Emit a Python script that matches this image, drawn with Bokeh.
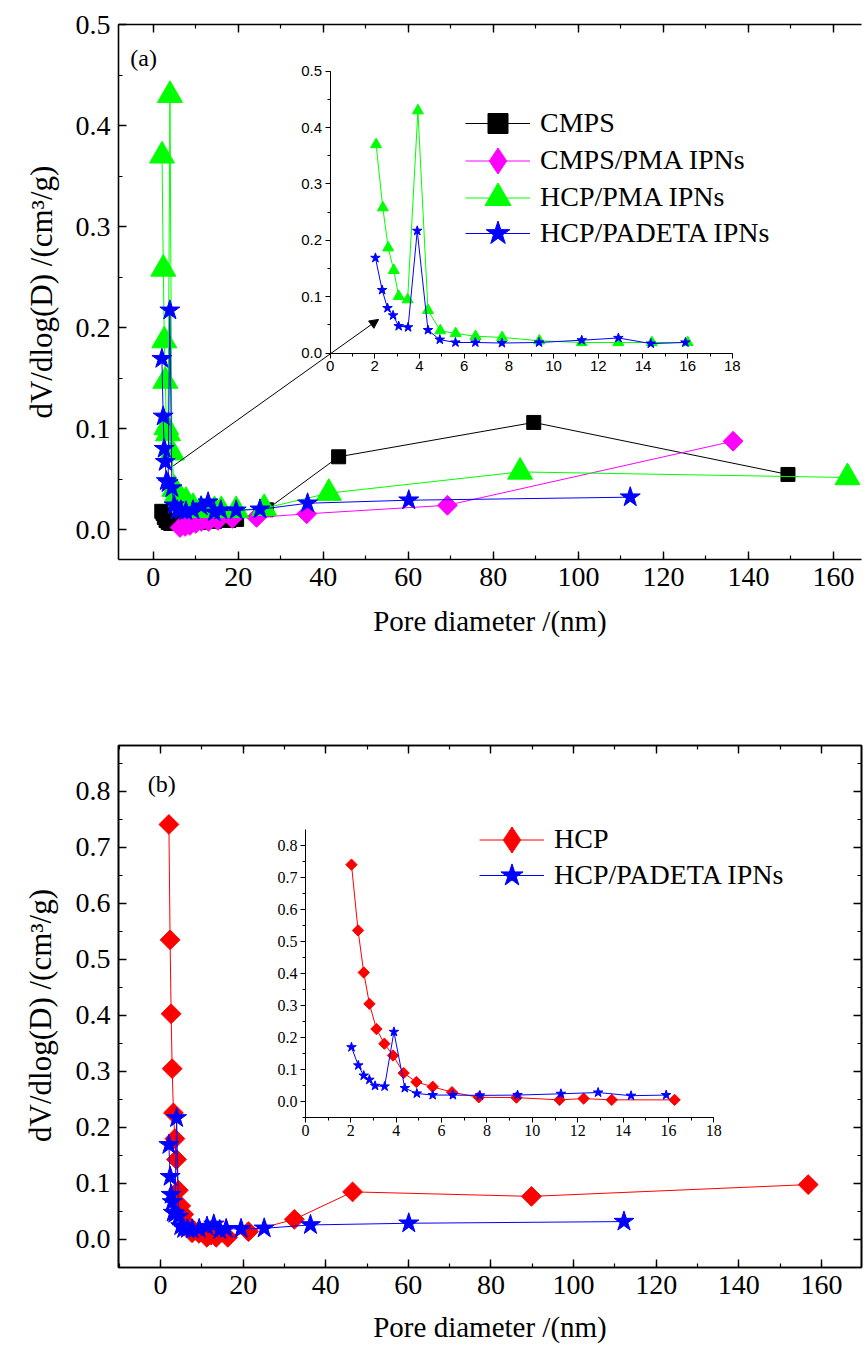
import math
from bokeh.plotting import figure
from bokeh.models import (Range1d, LinearAxis, SingleIntervalTicker, Legend, LegendItem,
                          Arrow, NormalHead, Label, NumeralTickFormatter)
from bokeh.layouts import column
from bokeh.embed import file_html
from bokeh.resources import INLINE

# ---------------- data ----------------
# panel (a)
cmps_x = [2.0, 2.3, 2.6, 3.0, 3.5, 4.1, 4.9, 6.0, 7.4, 9.2, 11.5, 14.4, 17.8, 19.6, 26.6, 43.6, 89.5, 149.3]
cmps_y = [0.018, 0.016, 0.012, 0.009, 0.007, 0.006, 0.006, 0.006, 0.006, 0.007, 0.007, 0.008, 0.009, 0.010, 0.0195, 0.072, 0.106, 0.0545]

cmpspma_x = [6.3, 7.5, 8.6, 10.0, 11.3, 13.0, 15.2, 18.6, 24.3, 36.1, 69.2, 136.4]
cmpspma_y = [0.002, 0.003, 0.004, 0.006, 0.008, 0.008, 0.009, 0.011, 0.012, 0.0155, 0.024, 0.0874]

hcppma_x = [2.06, 2.36, 2.60, 2.85, 3.07, 3.47, 3.93, 4.38, 4.93, 5.62, 6.51, 7.70, 9.36, 11.26, 12.90, 14.40, 16.00, 19.5, 26.1, 41.3, 86.3, 163.3]
hcppma_y = [0.370, 0.258, 0.187, 0.147, 0.101, 0.095, 0.430, 0.076, 0.040, 0.035, 0.030, 0.028, 0.022, 0.019, 0.019, 0.019, 0.019, 0.019, 0.021, 0.036, 0.057, 0.0515]

padeta_x = [2.03, 2.33, 2.57, 2.82, 3.07, 3.49, 3.90, 4.38, 4.91, 5.61, 6.50, 7.69, 9.35, 11.26, 12.90, 14.35, 15.90, 19.5, 25.1, 36.3, 60.1, 112.2]
padeta_y = [0.169, 0.112, 0.080, 0.067, 0.048, 0.046, 0.217, 0.041, 0.024, 0.019, 0.019, 0.018, 0.019, 0.023, 0.027, 0.017, 0.019, 0.019, 0.020, 0.026, 0.029, 0.032]

# panel (b)
hcp_x = [2.03, 2.32, 2.57, 2.82, 3.13, 3.48, 3.86, 4.33, 4.89, 5.61, 6.46, 7.64, 9.30, 11.20, 12.26, 13.50, 16.27, 21.3, 32.4, 46.5, 89.8, 156.8]
hcp_y = [0.741, 0.535, 0.403, 0.305, 0.226, 0.180, 0.143, 0.088, 0.060, 0.045, 0.028, 0.012, 0.011, 0.004, 0.008, 0.004, 0.004, 0.014, 0.036, 0.085, 0.077, 0.098]

labels_a = ["CMPS", "CMPS/PMA IPNs", "HCP/PMA IPNs", "HCP/PADETA IPNs"]
labels_b = ["HCP", "HCP/PADETA IPNs"]

INSET_MAX = 18

SERIF = "Liberation Serif"
SANS = "Liberation Sans"
GREEN = "#00FF00"
BLUE = "#0000FF"
MAGENTA = "#FF00FF"
RED = "#FF0000"
BLACK = "#000000"


def clip(xs, ys, xmax=INSET_MAX):
    pairs = [(a, b) for a, b in zip(xs, ys) if a <= xmax]
    return [p[0] for p in pairs], [p[1] for p in pairs]


def main_axis(ax, interval, fmt, labels=True):
    ax.ticker = SingleIntervalTicker(interval=interval, num_minor_ticks=2)
    ax.formatter = NumeralTickFormatter(format=fmt)
    ax.axis_line_width = 1.6
    ax.axis_line_color = "black"
    ax.major_tick_in = 8
    ax.major_tick_out = 0
    ax.minor_tick_in = 4
    ax.minor_tick_out = 0
    ax.major_tick_line_width = 1.4
    ax.minor_tick_line_width = 1.2
    ax.major_tick_line_color = "black"
    ax.minor_tick_line_color = "black"
    ax.major_label_text_font = SERIF
    if labels:
        ax.major_label_text_color = "black"
        ax.major_label_text_font_size = "28px"
        ax.major_label_standoff = 8
    else:
        ax.major_label_text_color = None
        ax.major_label_text_font_size = "0px"
        ax.major_label_standoff = 0
    ax.axis_label_text_font = SERIF
    ax.axis_label_text_font_style = "normal"
    ax.axis_label_text_font_size = "29px"
    ax.axis_label_text_color = "black"


def inset_axis(ax, interval, fmt, font, size):
    ax.ticker = SingleIntervalTicker(interval=interval, num_minor_ticks=2)
    ax.formatter = NumeralTickFormatter(format=fmt)
    ax.axis_line_width = 1
    ax.major_tick_in = 0
    ax.major_tick_out = 5
    ax.minor_tick_in = 0
    ax.minor_tick_out = 3
    ax.major_label_text_font = font
    ax.major_label_text_font_size = size
    ax.major_label_text_color = "black"
    ax.major_label_standoff = 3


def make_fig(height, xr, yr, left, right, top, bottom, outline):
    p = figure(width=866, height=height, x_range=Range1d(*xr), y_range=Range1d(*yr),
               output_backend="svg", toolbar_location=None,
               min_border_left=left, min_border_right=right,
               min_border_top=top, min_border_bottom=bottom)
    p.xgrid.visible = False
    p.ygrid.visible = False
    p.outline_line_color = "black" if outline else None
    p.outline_line_width = 1.6
    p.background_fill_color = "white"
    p.border_fill_color = "white"
    return p


def add_legend(p, label, renderers, x, yc, gh):
    lg = Legend(items=[LegendItem(label=label, renderers=renderers)],
                location=(x, yc - gh / 2))
    lg.border_line_color = None
    lg.background_fill_alpha = 0
    lg.padding = 0
    lg.margin = 0
    lg.glyph_width = 65
    lg.glyph_height = gh
    lg.label_height = gh
    lg.spacing = 0
    lg.label_standoff = 10
    lg.label_text_font = SERIF
    lg.label_text_font_size = "28px"
    lg.label_text_color = "black"
    lg.label_text_baseline = "middle"
    p.add_layout(lg)


Y_LABEL = "dV/dlog(D) /(cm\u00b3/g)"
X_LABEL = "Pore diameter /(nm)"

# ======================= panel (a) =======================
pa = make_fig(650, (-8.18, 166.6), (-0.0297, 0.5), 118, 0, 24, 91, False)
main_axis(pa.xaxis[0], 20, "0")
main_axis(pa.yaxis[0], 0.1, "0.0")
pa.xaxis[0].axis_label = X_LABEL
pa.xaxis[0].axis_label_standoff = 16
top_a = LinearAxis()
main_axis(top_a, 20, "0", labels=False)
pa.add_layout(top_a, "above")

r_cl = pa.line(cmps_x, cmps_y, line_color=BLACK, line_width=1)
r_cs = pa.scatter(cmps_x, cmps_y, marker="square", size=14, fill_color=BLACK, line_color=BLACK)
r_ml = pa.line(cmpspma_x, cmpspma_y, line_color=MAGENTA, line_width=1)
r_ms = pa.scatter(cmpspma_x, cmpspma_y, marker="square", angle=math.pi / 4, size=14,
                  fill_color=MAGENTA, line_color=MAGENTA)
r_gl = pa.line(hcppma_x, hcppma_y, line_color=GREEN, line_width=1)
r_gs = pa.scatter(hcppma_x, hcppma_y, marker="triangle", size=25, fill_color=GREEN, line_color=GREEN)
r_bl = pa.line(padeta_x, padeta_y, line_color=BLUE, line_width=1)
r_bs = pa.scatter(padeta_x, padeta_y, marker="star", size=21, fill_color=BLUE, line_color=BLUE)
# hidden diamond renderer used only as the legend glyph (legend glyphs are drawn unrotated)
r_md = pa.scatter(cmpspma_x, cmpspma_y, marker="diamond", fill_color=MAGENTA, line_color=MAGENTA,
                  visible=False)

# inset (a) via extra ranges mapped onto a sub-region of the frame
pa.extra_x_ranges = {"ix": Range1d(-9.467, 23.778)}
pa.extra_y_ranges = {"iy": Range1d(-0.3658, 0.5828)}
gx, gy = clip(hcppma_x, hcppma_y)
bx, by = clip(padeta_x, padeta_y)
pa.line(gx, gy, line_color=GREEN, line_width=1, x_range_name="ix", y_range_name="iy")
pa.scatter(gx, gy, marker="triangle", size=11, fill_color=GREEN, line_color=GREEN,
           x_range_name="ix", y_range_name="iy")
pa.line(bx, by, line_color=BLUE, line_width=1, x_range_name="ix", y_range_name="iy")
pa.scatter(bx, by, marker="star", size=10, fill_color=BLUE, line_color=BLUE,
           x_range_name="ix", y_range_name="iy")

ixa = LinearAxis(x_range_name="ix", y_range_name="iy", fixed_location=0, bounds=(0, 18))
inset_axis(ixa, 2, "0", SANS, "15px")
pa.add_layout(ixa, "below")
iya = LinearAxis(x_range_name="ix", y_range_name="iy", fixed_location=0, bounds=(0, 0.5))
inset_axis(iya, 0.1, "0.0", SANS, "15px")
pa.add_layout(iya, "left")

pa.add_layout(Arrow(end=NormalHead(size=9, fill_color="black", line_color="black"),
                    x_start=4.7, y_start=0.063, x_end=53.0, y_end=0.208,
                    line_color="black", line_width=1))

pa.add_layout(Label(x=-5.4, y=0.467, text="(a)", text_font=SERIF, text_font_size="24px",
                    text_baseline="middle", text_align="left", text_color="black"))
pa.add_layout(Label(x=-26.4, y=0.235, text=Y_LABEL, text_font=SERIF, text_font_size="31px",
                    angle=math.pi / 2, text_baseline="middle", text_align="center",
                    text_color="black"), "left")

add_legend(pa, labels_a[0], [r_cl, r_cs], 347, 436, 50)
add_legend(pa, labels_a[1], [r_ml, r_md], 347, 399, 65)
add_legend(pa, labels_a[2], [r_gl, r_gs], 347, 362, 65)
add_legend(pa, labels_a[3], [r_bl, r_bs], 347, 326, 62)

# ======================= panel (b) =======================
pb = make_fig(707, (-10.17, 169.7), (-0.05, 0.882), 118, 5, 95, 90, True)
main_axis(pb.xaxis[0], 20, "0")
main_axis(pb.yaxis[0], 0.1, "0.0")
pb.xaxis[0].axis_label = X_LABEL
pb.xaxis[0].axis_label_standoff = 14
top_b = LinearAxis()
main_axis(top_b, 20, "0", labels=False)
pb.add_layout(top_b, "above")
right_b = LinearAxis()
main_axis(right_b, 0.1, "0.0", labels=False)
pb.add_layout(right_b, "right")

r_rl = pb.line(hcp_x, hcp_y, line_color=RED, line_width=1)
r_rs = pb.scatter(hcp_x, hcp_y, marker="square", angle=math.pi / 4, size=14,
                  fill_color=RED, line_color=RED)
r_bl2 = pb.line(padeta_x, padeta_y, line_color=BLUE, line_width=1)
r_bs2 = pb.scatter(padeta_x, padeta_y, marker="star", size=21, fill_color=BLUE, line_color=BLUE)
r_rd = pb.scatter(hcp_x, hcp_y, marker="diamond", fill_color=RED, line_color=RED, visible=False)

pb.extra_x_ranges = {"ix": Range1d(-8.238, 24.507)}
pb.extra_y_ranges = {"iy": Range1d(-0.5213, 1.1144)}
rx, ry = clip(hcp_x, hcp_y)
pb.line(rx, ry, line_color=RED, line_width=1, x_range_name="ix", y_range_name="iy")
pb.scatter(rx, ry, marker="square", angle=math.pi / 4, size=8, fill_color=RED, line_color=RED,
           x_range_name="ix", y_range_name="iy")
pb.line(bx, by, line_color=BLUE, line_width=1, x_range_name="ix", y_range_name="iy")
pb.scatter(bx, by, marker="star", size=10, fill_color=BLUE, line_color=BLUE,
           x_range_name="ix", y_range_name="iy")

ixb = LinearAxis(x_range_name="ix", y_range_name="iy", fixed_location=-0.05, bounds=(0, 18))
inset_axis(ixb, 2, "0", SERIF, "16px")
pb.add_layout(ixb, "below")
iyb = LinearAxis(x_range_name="ix", y_range_name="iy", fixed_location=0, bounds=(-0.05, 0.85))
inset_axis(iyb, 0.1, "0.0", SERIF, "16px")
pb.add_layout(iyb, "left")

pb.add_layout(Label(x=-3.1, y=0.814, text="(b)", text_font=SERIF, text_font_size="24px",
                    text_baseline="middle", text_align="left", text_color="black"))
pb.add_layout(Label(x=-29.05, y=0.40, text=Y_LABEL, text_font=SERIF, text_font_size="31px",
                    angle=math.pi / 2, text_baseline="middle", text_align="center",
                    text_color="black"), "left")

add_legend(pb, labels_b[0], [r_rl, r_rd], 361, 428, 65)
add_legend(pb, labels_b[1], [r_bl2, r_bs2], 361, 392, 58)

layout = column(pa, pb)
open("out.html", "w").write(file_html(layout, INLINE))
